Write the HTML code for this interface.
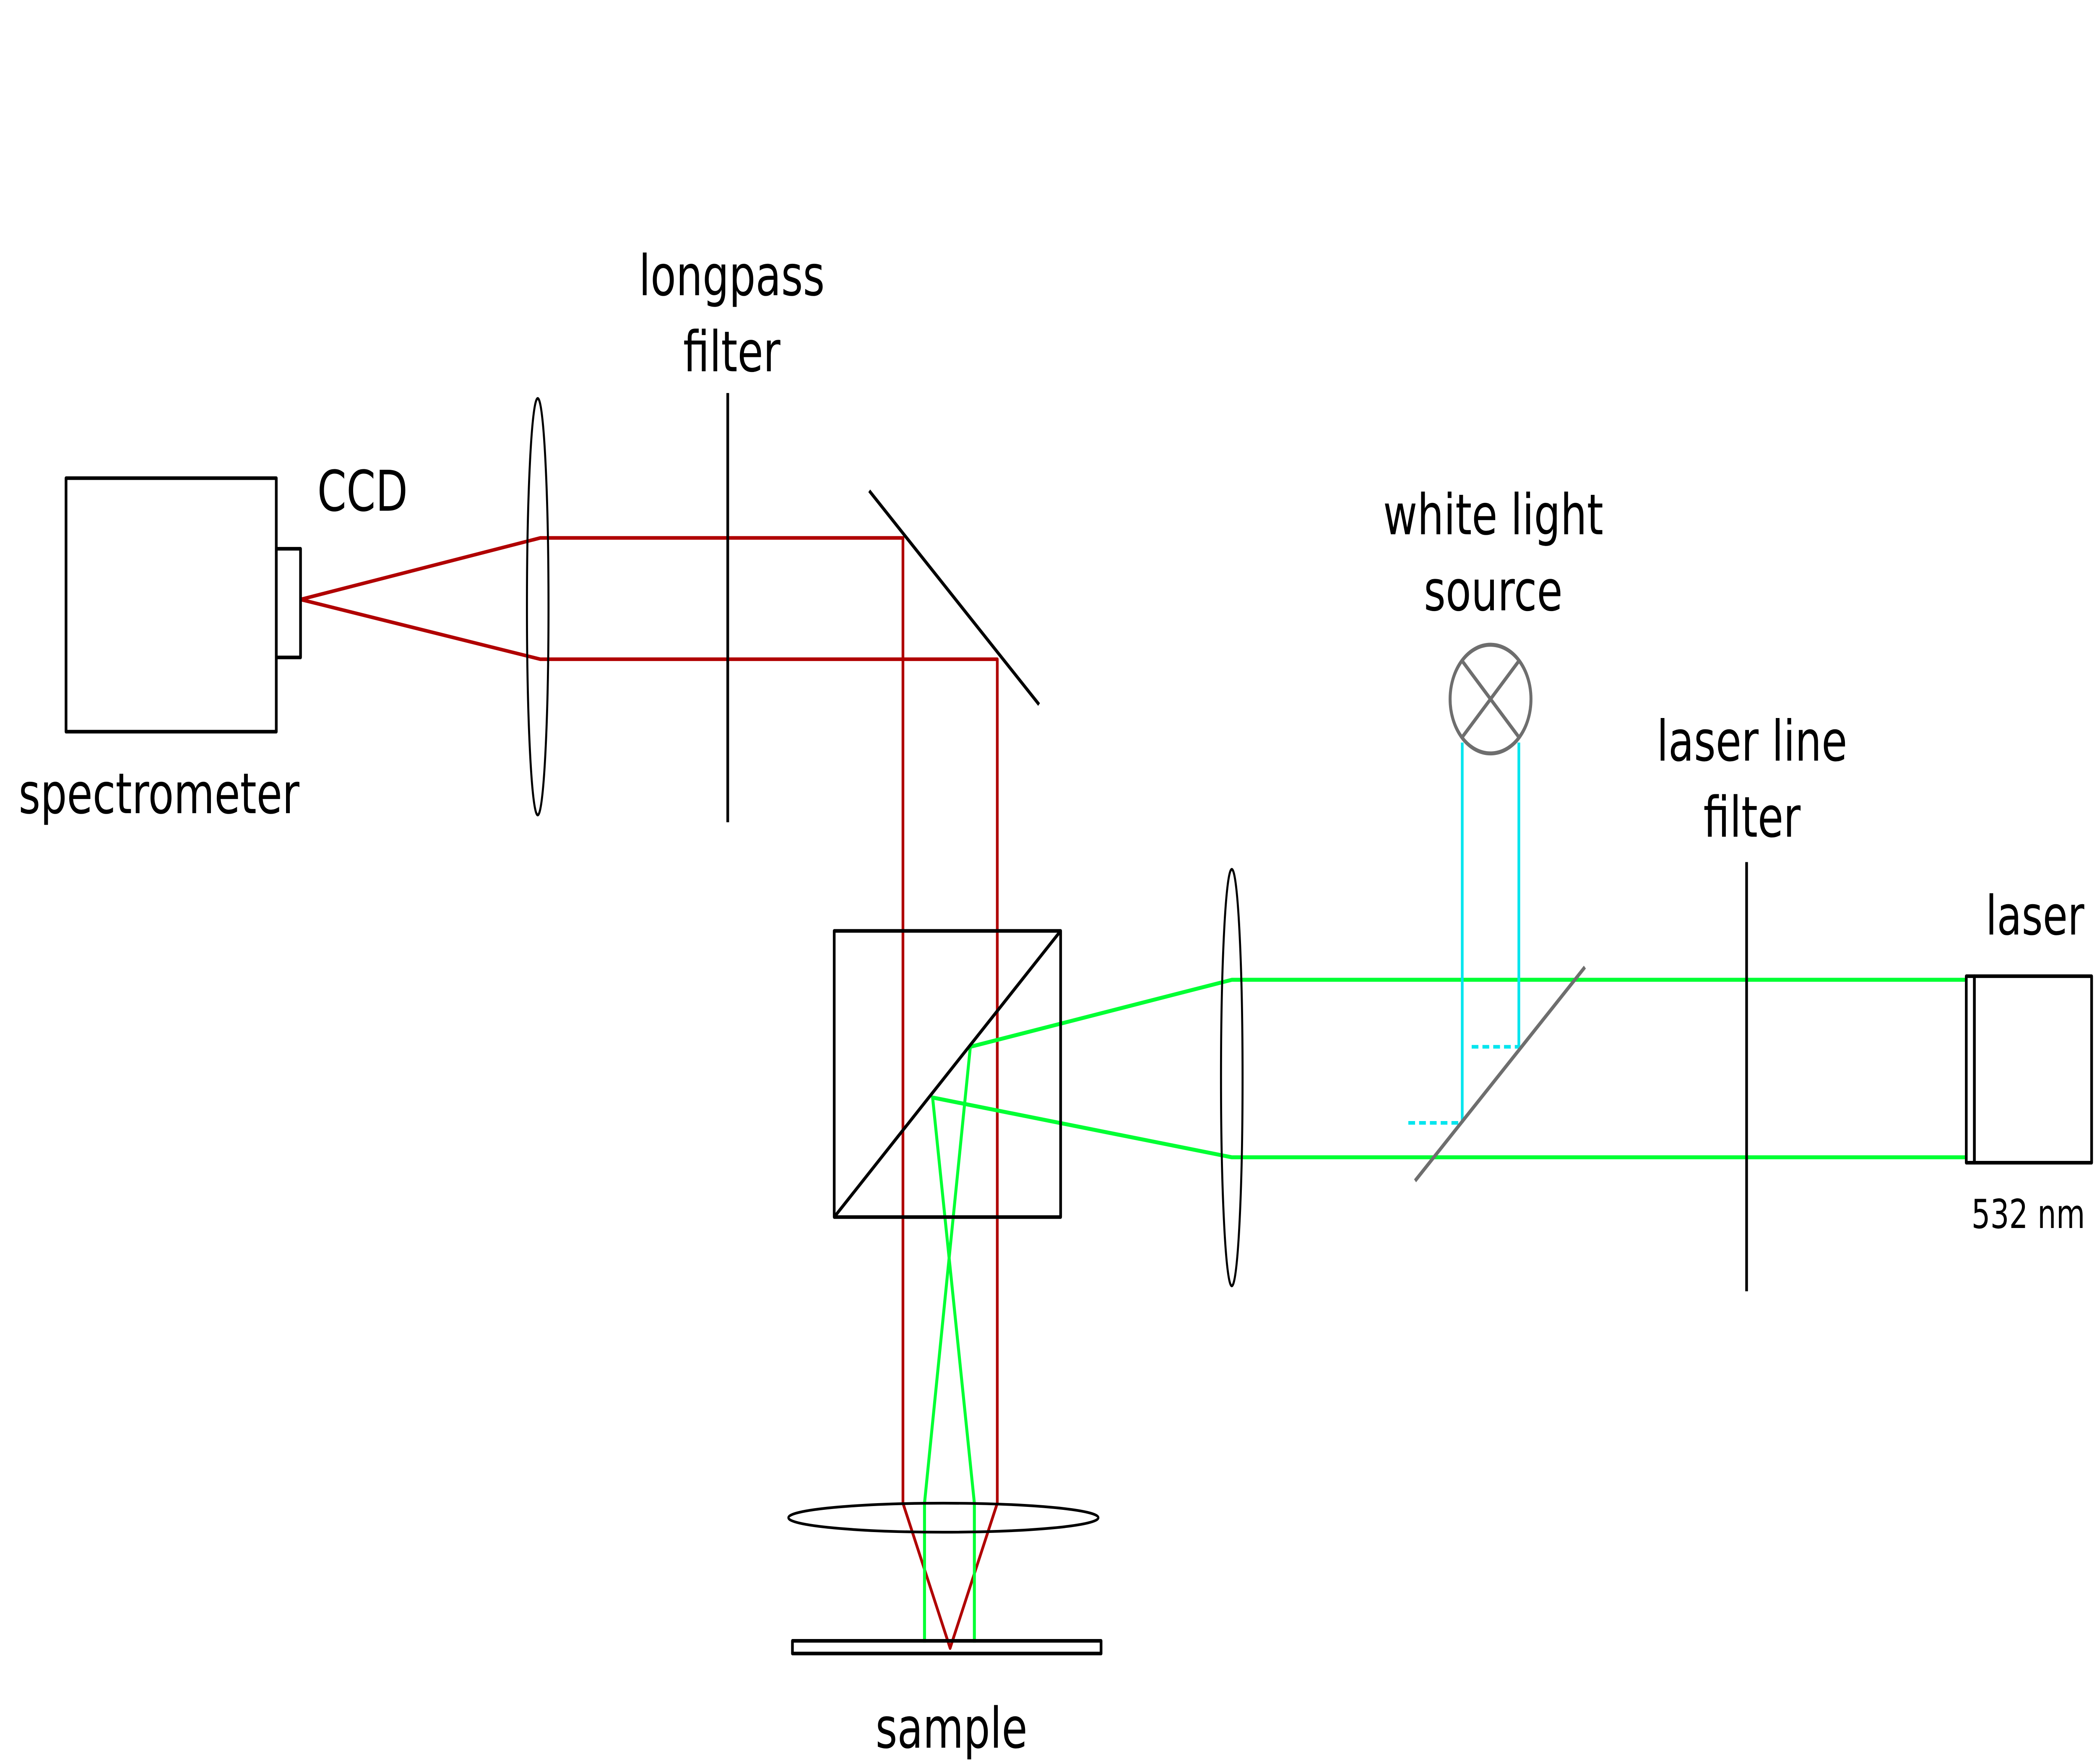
<!DOCTYPE html>
<html><head><meta charset="utf-8"><style>
html,body{margin:0;padding:0;background:#fff;width:100vw;height:100vh;overflow:hidden;}
svg{display:block;position:fixed;left:0;top:0;width:100vw;height:100vh;}
text{font-family:"DejaVu Sans","Liberation Sans",sans-serif;fill:#000;text-anchor:middle;}
</style></head><body>
<svg viewBox="0 0 1556 974" preserveAspectRatio="none">
<rect width="1556" height="974" fill="#fff"/>
<g fill="none" stroke-linejoin="round">
<g stroke="#b00000" stroke-width="2">
<polyline points="223,331 401,297 670,297 670,830 705,910 740,830 740,364 401,364 223,331"/>
</g>
<g stroke="#00ff33" stroke-width="2.2">
<polyline points="1460,541 914,541 720,578 686,830 686,907"/>
<polyline points="1460,639 914,639 692,606 723,830 723,907"/>
</g>
<g stroke="#00e5ee" stroke-width="2">
<line x1="1085" y1="410" x2="1085" y2="620"/>
<line x1="1127" y1="410" x2="1127" y2="578"/>
<line x1="1045" y1="620" x2="1085" y2="620" stroke-dasharray="5,3"/>
<line x1="1092" y1="578" x2="1127" y2="578" stroke-dasharray="5,3"/>
</g>
<g stroke="#000" stroke-width="2">
<rect x="49" y="264" width="156" height="140"/>
<rect x="205" y="303" width="18" height="60"/>
<line x1="540" y1="217" x2="540" y2="454"/>
<line x1="645" y1="271" x2="771" y2="389"/>
<rect x="619" y="514" width="168" height="158"/>
<line x1="619" y1="672" x2="787" y2="514"/>
<line x1="1296" y1="476" x2="1296" y2="713"/>
<rect x="1465" y="539" width="87" height="103"/>
<rect x="1459" y="539" width="6" height="103"/>
<rect x="588" y="906" width="229" height="7"/>
</g>
<g stroke="#000" stroke-width="1.5">
<ellipse cx="399" cy="335" rx="8" ry="115"/>
<ellipse cx="914" cy="595" rx="8" ry="115"/>
<ellipse cx="700" cy="838" rx="115" ry="8"/>
</g>
<g stroke="#6e6e6e" stroke-width="2.2">
<circle cx="1106" cy="386" r="30"/>
<line x1="1085" y1="365" x2="1127" y2="407"/>
<line x1="1127" y1="365" x2="1085" y2="407"/>
<line x1="1050" y1="652" x2="1176" y2="534"/>
</g>
</g>
<text x="543" y="163" font-size="31">longpass</text>
<text x="543" y="205" font-size="31">filter</text>
<text x="269" y="282" font-size="31">CCD</text>
<text x="118" y="449" font-size="31">spectrometer</text>
<text x="1108" y="295" font-size="31">white light</text>
<text x="1108" y="337" font-size="31">source</text>
<text x="1300" y="420" font-size="31">laser line</text>
<text x="1300" y="462" font-size="31">filter</text>
<text x="1510" y="516" font-size="30">laser</text>
<text x="1505" y="678" font-size="22">532 nm</text>
<text x="706" y="965" font-size="31">sample</text>
</svg>
</body></html>
